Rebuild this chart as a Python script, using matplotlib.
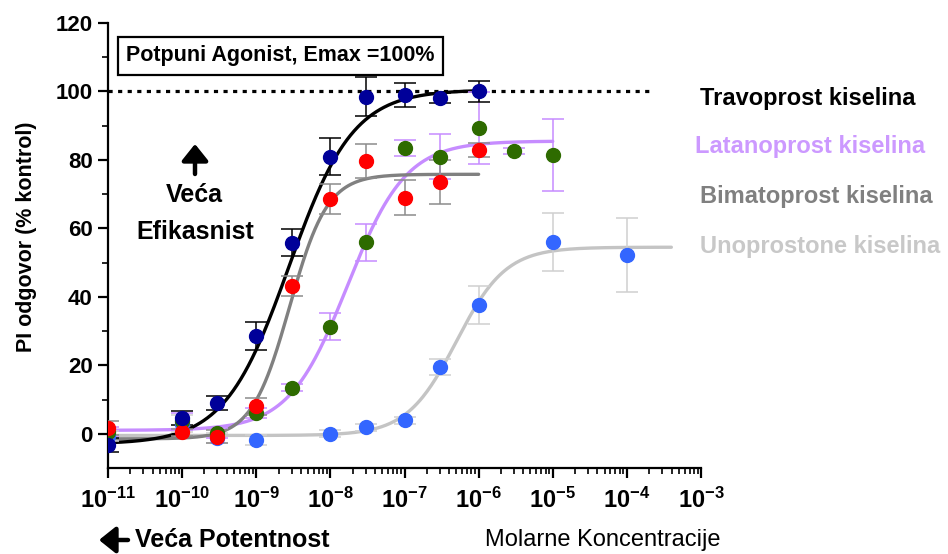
import numpy as np
import matplotlib
matplotlib.use("Agg")
from matplotlib import pyplot as plt
from matplotlib.ticker import LogLocator, NullFormatter, FixedLocator

plt.rcParams['font.family'] = ['Liberation Sans', 'DejaVu Sans']
plt.rcParams['mathtext.fontset'] = 'custom'
plt.rcParams['mathtext.bf'] = 'Liberation Sans:bold'
plt.rcParams['mathtext.rm'] = 'Liberation Sans:bold'
plt.rcParams['mathtext.default'] = 'bf'

# ---- data ----
trav_x = [1e-11, 1e-10, 3e-10, 1e-9, 3e-9, 1e-8, 3e-8, 1e-7, 3e-7, 1e-6]
trav_y = [-3.2, 4.7, 9.0, 28.6, 55.8, 81.0, 98.4, 99.0, 98.0, 100.0]
trav_err = [2.0, 2.0, 2.0, 4.0, 4.0, 5.5, 5.7, 3.6, 1.5, 3.2]

lat_x = [1e-11, 1e-10, 3e-10, 1e-9, 3e-9, 1e-8, 3e-8, 1e-7, 3e-7, 1e-6, 3e-6, 1e-5]
lat_y = [0.5, 3.6, 0.3, 6.1, 13.4, 31.3, 56.0, 83.5, 81.0, 89.3, 82.6, 81.5]
lat_err = [1.5, 2.5, 1.5, 1.5, 1.0, 4.0, 5.4, 2.3, 6.5, 10.5, 1.0, 10.6]

bim_x = [1e-11, 1e-10, 3e-10, 1e-9, 3e-9, 1e-8, 3e-8, 1e-7, 3e-7, 1e-6]
bim_y = [1.7, 0.4, -0.8, 8.0, 43.2, 68.6, 79.7, 69.0, 73.5, 83.0]
bim_err = [2.0, 1.0, 2.0, 2.5, 3.0, 4.5, 5.0, 5.1, 6.4, 2.0]

uno_x = [1e-11, 1e-10, 3e-10, 1e-9, 1e-8, 3e-8, 1e-7, 3e-7, 1e-6, 1e-5, 1e-4]
uno_y = [-0.6, 3.0, -1.2, -1.8, 0.0, 1.9, 3.9, 19.4, 37.6, 56.1, 52.2]
uno_err = [1.5, 2.5, 1.5, 1.5, 1.0, 1.0, 1.0, 2.3, 5.5, 8.5, 10.7]

# fitted sigmoid parameters: bottom, top, logEC50, hill, fit range (log10)
trav_fit = [-3.0, 100.5, -8.56, 1.0, -11, -6]
lat_fit = [1.0, 85.5, -7.77, 1.1, -11, -5]
bim_fit = [-1.5, 75.8, -8.55, 1.7, -11, -6]
uno_fit = [-0.5, 54.5, -6.30, 1.3, -11, -3.4]

labels = ["Travoprost kiselina", "Latanoprost kiselina",
          "Bimatoprost kiselina", "Unoprostone kiselina"]
label_colors = ["#000000", "#CC99FF", "#808080", "#C8C8C8"]

xtick_exp = [-11, -10, -9, -8, -7, -6, -5, -4, -3]
ytick_vals = [0, 20, 40, 60, 80, 100, 120]


def sigmoid(p):
    lx = np.linspace(p[4], p[5], 400)
    return 10 ** lx, p[0] + (p[1] - p[0]) / (1 + 10 ** ((p[2] - lx) * p[3]))


fig = plt.figure(figsize=(9.48, 5.54), dpi=100)
ax = fig.add_axes([108 / 948, 1 - 468 / 554, (701 - 108) / 948, (468 - 23) / 554])

series = [
    (uno_x, uno_y, uno_err, uno_fit, "#C4C4C4", "#3366FF", "#D0D0D0"),
    (lat_x, lat_y, lat_err, lat_fit, "#C68CFF", "#2E6B00", "#C68CFF"),
    (bim_x, bim_y, bim_err, bim_fit, "#808080", "#FF0000", "#8C8C8C"),
    (trav_x, trav_y, trav_err, trav_fit, "#000000", "#000099", "#000000"),
]
for xs, ys, es, fit, lc, mc, ec in series:
    fx, fy = sigmoid(fit)
    ax.plot(fx, fy, color=lc, lw=2.4, zorder=2, solid_capstyle='round')
    ax.errorbar(xs, ys, yerr=es, fmt='o', ms=10, color=mc, mec=mc,
                ecolor=ec, elinewidth=1.1, capsize=8, capthick=1.1, zorder=3)

ax.hlines(100, 1e-11, 2e-4, colors='black', lw=2.3,
          linestyles=(0, (1.3, 1.7)), zorder=1)

ax.set_xscale('log')
ax.set_xlim(1e-11, 1e-3)
ax.set_ylim(-10, 120)

ax.spines['top'].set_visible(False)
ax.spines['right'].set_visible(False)
ax.spines['left'].set_linewidth(1.6)
ax.spines['bottom'].set_linewidth(1.6)

ax.set_yticks(ytick_vals)
ax.set_yticklabels([str(v) for v in ytick_vals], fontsize=16, fontweight='bold')
ax.yaxis.set_minor_locator(FixedLocator([10, 30, 50, 70, 90, 110]))

ax.set_xticks([10.0 ** e for e in xtick_exp])
ax.set_xticklabels([r'$\mathbf{10^{%d}}$' % e for e in xtick_exp], fontsize=17)
ax.xaxis.set_minor_locator(LogLocator(base=10, subs=np.arange(2, 10), numticks=20))
ax.xaxis.set_minor_formatter(NullFormatter())

ax.tick_params(axis='both', which='major', direction='out', length=7, width=1.6, pad=4)
ax.tick_params(axis='both', which='minor', direction='out', length=4, width=1.2)
ax.tick_params(axis='x', which='major', pad=7)

ax.text(2.1e-9, 110.4, "Potpuni Agonist, Emax =100%", ha='center', va='center',
        fontsize=15.5, fontweight='bold',
        bbox=dict(boxstyle='square,pad=0.38', fc='white', ec='black', lw=1.6))

# heavy up arrow above "Veća Efikasnist"
ax.annotate("", xy=(195 / 948, 1 - 144 / 554), xytext=(195 / 948, 1 - 174 / 554),
            xycoords='figure fraction', textcoords='figure fraction',
            arrowprops=dict(arrowstyle='-|>,head_length=0.5,head_width=0.4',
                            lw=3.2, color='black', shrinkA=0, shrinkB=0,
                            mutation_scale=20))
ax.text(1.45e-10, 69.8, "Veća", ha='center', va='center', fontsize=18,
        fontweight='bold')
ax.text(1.5e-10, 59.0, "Efikasnist", ha='center', va='center', fontsize=18,
        fontweight='bold')

label_pos = [(700, 98), (695, 147), (700, 197), (700, 247)]
for (px, py), lab, col in zip(label_pos, labels, label_colors):
    fig.text(px / 948, 1 - py / 554, lab, ha='left', va='center',
             fontsize=17, fontweight='bold', color=col)

fig.text(27 / 948, 1 - 237 / 554, "PI odgovor (% kontrol)", rotation=90,
         ha='center', va='center', fontsize=15.5, fontweight='bold')

# heavy left arrow before "Veća Potentnost"
fig.patches.append(matplotlib.patches.FancyArrowPatch(
    (128 / 948, 1 - 540 / 554), (99 / 948, 1 - 540 / 554),
    transform=fig.transFigure, arrowstyle='-|>,head_length=0.5,head_width=0.4',
    lw=3.2, color='black', mutation_scale=20, shrinkA=0, shrinkB=0))
fig.text(135 / 948, 1 - 540 / 554, "Veća Potentnost", ha='left', va='center',
         fontsize=18, fontweight='bold')
fig.text(485 / 948, 1 - 540 / 554, "Molarne Koncentracije", ha='left', va='center',
         fontsize=17)

fig.savefig("out.png", dpi=100)
